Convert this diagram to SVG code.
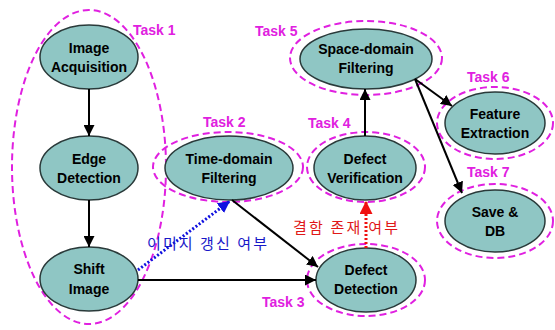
<svg xmlns="http://www.w3.org/2000/svg" width="555" height="330" viewBox="0 0 555 330">
<defs>
<marker id="abig" viewBox="0 0 10 10" refX="10" refY="5" markerWidth="11" markerHeight="11" markerUnits="userSpaceOnUse" orient="auto"><path d="M0,0 L10,5 L0,10 z" fill="#000"/></marker>
<marker id="ablue" viewBox="0 0 10 10" refX="10" refY="5" markerWidth="12" markerHeight="12" markerUnits="userSpaceOnUse" orient="auto"><path d="M0,0 L10,5 L0,10 z" fill="#1010e0"/></marker>
<marker id="ared" viewBox="0 0 10 10" refX="10" refY="5" markerWidth="13" markerHeight="13" markerUnits="userSpaceOnUse" orient="auto"><path d="M0,0 L10,5 L0,10 z" fill="#f01010"/></marker>
</defs>
<style>
.n{fill:#8fc6c4;stroke:#2a3a3a;stroke-width:1.5}
.t{fill:none;stroke:#e020e0;stroke-width:2;stroke-dasharray:7,4}
.lb{font-family:"Liberation Sans",Arial,sans-serif;font-weight:bold;font-size:14px;fill:#000;text-anchor:middle}
.tk{font-family:"Liberation Sans",Arial,sans-serif;font-weight:bold;font-size:14px;fill:#e020e0}
.c{stroke:#000;stroke-width:2;fill:none}
.kr{font-family:"Noto Sans CJK KR",sans-serif;font-size:15px}
</style>
<rect width="555" height="330" fill="#fff"/>
<g id="task1"><ellipse class="t" cx="89" cy="167" rx="77" ry="157"/><text class="tk" x="133" y="35">Task 1</text></g>
<g id="image-acquisition"><ellipse class="n" cx="89" cy="57" rx="49" ry="32"/><text class="lb" x="89" y="53">Image</text><text class="lb" x="89" y="72">Acquisition</text></g>
<g id="edge-detection"><ellipse class="n" cx="89" cy="168" rx="49" ry="32"/><text class="lb" x="89" y="164">Edge</text><text class="lb" x="89" y="183">Detection</text></g>
<g id="shift-image"><ellipse class="n" cx="89" cy="279" rx="49" ry="32"/><text class="lb" x="89" y="274">Shift</text><text class="lb" x="89" y="294">Image</text></g>
<g id="time-domain"><ellipse class="t" cx="228" cy="167" rx="75" ry="35"/><ellipse class="n" cx="229" cy="168" rx="64" ry="32"/><text class="lb" x="229" y="164">Time-domain</text><text class="lb" x="229" y="183">Filtering</text><text class="tk" x="203" y="127">Task 2</text></g>
<g id="defect-verification"><ellipse class="t" cx="366" cy="167" rx="59" ry="35"/><ellipse class="n" cx="365" cy="168" rx="51" ry="32"/><text class="lb" x="365" y="164">Defect</text><text class="lb" x="365" y="183">Verification</text><text class="tk" x="308" y="128">Task 4</text></g>
<g id="defect-detection"><ellipse class="t" cx="366" cy="280" rx="59" ry="36"/><ellipse class="n" cx="366" cy="280" rx="50" ry="32"/><text class="lb" x="366" y="275">Defect</text><text class="lb" x="366" y="294">Detection</text><text class="tk" x="262" y="307">Task 3</text></g>
<g id="space-domain"><ellipse class="t" cx="366" cy="58" rx="76" ry="37"/><ellipse class="n" cx="366" cy="59" rx="66" ry="30"/><text class="lb" x="366" y="54">Space-domain</text><text class="lb" x="366" y="73">Filtering</text><text class="tk" x="255" y="36">Task 5</text></g>
<g id="feature-extraction"><ellipse class="t" cx="495" cy="123" rx="58" ry="36"/><ellipse class="n" cx="495" cy="123" rx="50" ry="31"/><text class="lb" x="495" y="119">Feature</text><text class="lb" x="495" y="138">Extraction</text><text class="tk" x="467" y="82">Task 6</text></g>
<g id="save-db"><ellipse class="t" cx="495" cy="221" rx="58" ry="37"/><ellipse class="n" cx="495" cy="221" rx="50" ry="31"/><text class="lb" x="495" y="217">Save &amp;</text><text class="lb" x="495" y="236">DB</text><text class="tk" x="467" y="177">Task 7</text></g>
<g id="connectors">
<line class="c" x1="89" y1="89" x2="89" y2="136" marker-end="url(#abig)"/>
<line class="c" x1="89" y1="200" x2="89" y2="247" marker-end="url(#abig)"/>
<line class="c" x1="138" y1="280" x2="316" y2="280" marker-end="url(#abig)"/>
<line class="c" x1="232" y1="200" x2="318" y2="267" marker-end="url(#abig)"/>
<line class="c" x1="365" y1="136" x2="365" y2="89" marker-end="url(#abig)"/>
<line class="c" x1="415" y1="79" x2="452" y2="106" marker-end="url(#abig)"/>
<line class="c" x1="415" y1="79" x2="462" y2="193" marker-end="url(#abig)"/>
<line x1="138" y1="270" x2="230" y2="201" stroke="#1010e0" stroke-width="3" stroke-dasharray="2,2" marker-end="url(#ablue)"/>
<line x1="366" y1="248" x2="366" y2="201" stroke="#f01010" stroke-width="3" stroke-dasharray="2,2" marker-end="url(#ared)"/>
<text class="kr" x="147" y="249" fill="#1818c8" textLength="120" lengthAdjust="spacing">이미지 갱신 여부</text>
<text class="kr" x="293" y="233" fill="#e01818" textLength="105" lengthAdjust="spacing">결함 존재 여부</text>
</g>
</svg>
